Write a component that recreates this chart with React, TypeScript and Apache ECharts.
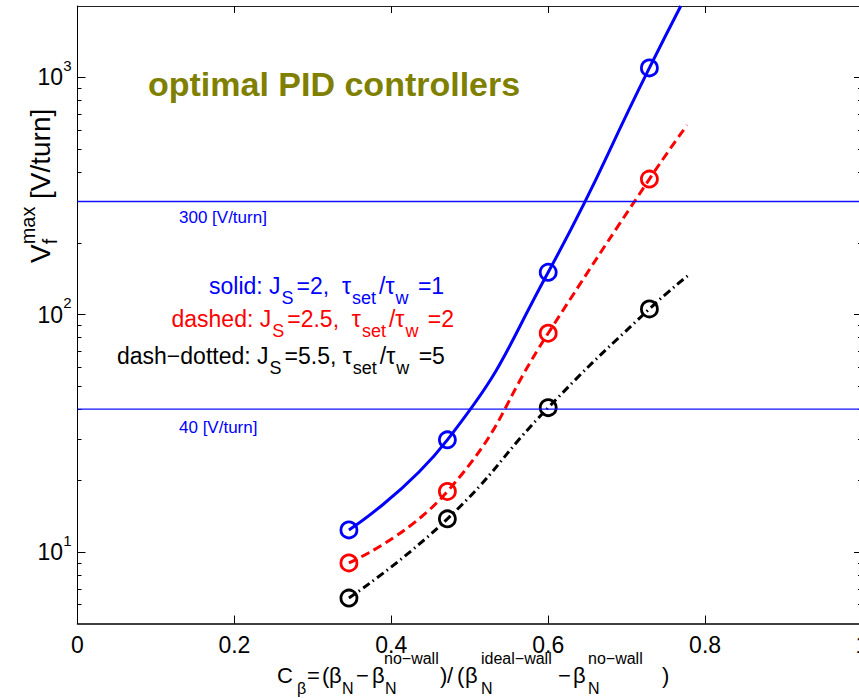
import React, { useEffect, useRef } from 'react';
import * as echarts from 'echarts';

const FONT = '"Liberation Sans", Arial, Helvetica, sans-serif';

// ---- data ----
const cBeta = [0.346, 0.4715, 0.6, 0.729];
const solidVmax = [12.4, 29.7, 151, 1097];
const dashedVmax = [9.0, 18.0, 83.6, 373];
const dashDotVmax = [6.4, 13.8, 40.6, 105.8];
// where each drawn curve ends
const solidEnd = [0.769, 2000];
const dashedEnd = [0.777, 630];
const dashDotEnd = [0.779, 147];
const limitValues = [300, 40];
const limitLabels = ['300 [V/turn]', '40 [V/turn]'];
const yMajorTicks = [10, 100, 1000];
const yMinorTicks = [6, 7, 8, 9, 20, 30, 40, 50, 60, 70, 80, 90, 200, 300, 400, 500, 600, 700, 800, 900];

const BLUE = '#0000ff';
const RED = '#ff0000';
const BLACK = '#000000';
const OLIVE = '#808000';

const legendLines = [
  { text: '{m|solid: J}{s|S}{m|=2,  τ}{s|set}{m|/τ}{s|w}{m| =1}', color: BLUE, x: 209, y: 286.3 },
  { text: '{m|dashed: J}{s|S}{m|=2.5,  τ}{s|set}{m|/τ}{s|w}{m| =2}', color: RED, x: 171.5, y: 319 },
  { text: '{m|dash−dotted: J}{s|S}{m|=5.5, τ}{s|set}{m|/τ}{s|w}{m| =5}', color: BLACK, x: 117, y: 356.3 },
];

function legendRich(color: string) {
  return {
    m: { fontSize: 23, lineHeight: 26, fill: color, color, fontFamily: FONT, verticalAlign: 'middle' },
    s: {
      fontSize: 18,
      lineHeight: 18,
      fill: color,
      color,
      fontFamily: FONT,
      verticalAlign: 'middle',
      padding: [24, 3, 0, 1],
    },
  };
}

function txt(x: number, y: number, text: string, size: number, color = BLACK, extra: any = {}) {
  return {
    type: 'text',
    x,
    y,
    silent: true,
    style: {
      text,
      fontSize: size,
      fontFamily: FONT,
      fill: color,
      align: 'left',
      verticalAlign: 'middle',
      ...extra,
    },
  };
}

export default function App() {
  const ref = useRef<HTMLDivElement>(null);

  useEffect(() => {
    if (!ref.current) return;
    const chart = echarts.init(ref.current, null, { renderer: 'svg' });

    const yBase: any = {
      type: 'log',
      logBase: 10,
      min: 5,
      max: 2000,
      splitLine: { show: false },
      minorTick: { show: false },
    };

    const curve = (ys: number[], end: number[], color: string, type: any) => ({
      type: 'line',
      data: [...cBeta.map((x, i) => [x, ys[i]]), end],
      smooth: 0.5,
      symbol: 'none',
      color,
      lineStyle: { color, width: 3, type, cap: 'butt' },
      silent: true,
      z: 3,
    });
    const markers = (ys: number[], color: string) => ({
      type: 'scatter',
      data: cBeta.map((x, i) => [x, ys[i]]),
      symbol: 'circle',
      symbolSize: 16,
      color,
      itemStyle: { color: 'rgba(0,0,0,0)', borderColor: color, borderWidth: 2.8, opacity: 1 },
      silent: true,
      z: 4,
    });

    const xName = [
      txt(277, 675, 'C', 22),
      txt(297, 688, 'β', 16),
      txt(307, 675, '=', 22),
      txt(322, 675, '(', 22),
      txt(329, 675, 'β', 22),
      txt(342, 688, 'N', 16),
      txt(356, 675, '−', 22),
      txt(372, 675, 'β', 22),
      txt(385, 688, 'N', 16),
      txt(384, 658.5, 'no−wall', 16),
      txt(440, 675, ')', 22),
      txt(447, 675, '/', 22),
      txt(457, 675, '(', 22),
      txt(465, 675, 'β', 22),
      txt(481, 688, 'N', 16),
      txt(481, 658.5, 'ideal−wall', 16),
      txt(558, 675, '−', 22),
      txt(573, 675, 'β', 22),
      txt(588, 688, 'N', 16),
      txt(588, 658.5, 'no−wall', 16),
      txt(662, 675, ')', 22),
    ];

    const option: any = {
      animation: false,
      textStyle: { fontFamily: FONT },
      grid: {
        left: 77.5,
        top: 6,
        width: 784.5,
        height: 617.5,
        containLabel: false,
        outerBoundsMode: 'none',
      },
      xAxis: [
        {
          type: 'value',
          position: 'bottom',
          min: 0,
          max: 1,
          interval: 0.2,
          axisLine: { show: true, onZero: false, lineStyle: { color: BLACK, width: 1.6 } },
          axisTick: { show: true, inside: true, length: 8, lineStyle: { color: BLACK, width: 1 } },
          axisLabel: {
            show: true,
            fontSize: 23,
            color: BLACK,
            fontFamily: FONT,
            margin: 10,
            formatter: (v: number) => String(Math.round(v * 10) / 10),
          },
          splitLine: { show: false },
        },
        {
          type: 'value',
          position: 'top',
          min: 0,
          max: 1,
          interval: 0.2,
          axisLine: { show: true, onZero: false, lineStyle: { color: '#222222', width: 1.2 } },
          axisTick: { show: true, inside: true, length: 7, lineStyle: { color: BLACK, width: 1 } },
          axisLabel: { show: false },
          splitLine: { show: false },
        },
      ],
      yAxis: [
        {
          ...yBase,
          position: 'left',
          axisLine: { show: true, onZero: false, lineStyle: { color: BLACK, width: 1 } },
          axisTick: { show: true, inside: true, length: 8, customValues: yMajorTicks, lineStyle: { color: BLACK, width: 1 } },
          axisLabel: {
            show: true,
            customValues: yMajorTicks,
            margin: 6,
            formatter: (v: number) => `{m|10}{s|${Math.round(Math.log10(v))}}`,
            rich: {
              m: { fontSize: 23, lineHeight: 26, color: BLACK, fontFamily: FONT, verticalAlign: 'middle' },
              s: { fontSize: 15, lineHeight: 16, color: BLACK, fontFamily: FONT, verticalAlign: 'middle', padding: [0, 0, 24, 0] },
            },
          },
        },
        {
          ...yBase,
          position: 'left',
          axisLine: { show: false, onZero: false },
          axisTick: { show: true, inside: true, length: 4, customValues: yMinorTicks, lineStyle: { color: BLACK, width: 1 } },
          axisLabel: { show: false },
        },
        {
          ...yBase,
          position: 'right',
          axisLine: { show: true, onZero: false, lineStyle: { color: BLACK, width: 1 } },
          axisTick: { show: true, inside: true, length: 8, customValues: yMajorTicks, lineStyle: { color: BLACK, width: 1 } },
          axisLabel: { show: false },
        },
        {
          ...yBase,
          position: 'right',
          axisLine: { show: false, onZero: false },
          axisTick: { show: true, inside: true, length: 4, customValues: yMinorTicks, lineStyle: { color: BLACK, width: 1 } },
          axisLabel: { show: false },
        },
      ],
      series: [
        ...limitValues.map((v) => ({
          type: 'line',
          data: [[0, v], [1, v]],
          symbol: 'none',
          color: BLUE,
          itemStyle: { color: BLUE },
          lineStyle: { color: '#1010ff', width: 1.3, opacity: 1 },
          silent: true,
          z: 10,
        })),
        curve(solidVmax, solidEnd, BLUE, 'solid'),
        curve(dashedVmax, dashedEnd, RED, [9, 5]),
        curve(dashDotVmax, dashDotEnd, BLACK, [8, 4, 1.5, 4]),
        markers(solidVmax, BLUE),
        markers(dashedVmax, RED),
        markers(dashDotVmax, BLACK),
      ],
      graphic: {
        elements: [
          txt(148, 84, 'optimal PID controllers', 34, OLIVE, { fontWeight: 'bold' }),
          txt(179, 217, limitLabels[0], 17, BLUE),
          txt(179, 427, limitLabels[1], 17, BLUE),
          ...legendLines.map((l) => ({
            type: 'text',
            x: l.x,
            y: l.y,
            silent: true,
            style: {
              text: l.text,
              rich: legendRich(l.color),
              fill: l.color,
              fontSize: 23,
              fontFamily: FONT,
              align: 'left',
              verticalAlign: 'middle',
            },
          })),
          ...xName,
          {
            type: 'group',
            x: 40,
            y: 263,
            rotation: Math.PI / 2,
            children: [
              txt(0, 0, 'V', 28),
              txt(18.7, 10, 'f', 20),
              txt(18.7, -12, 'max', 20),
              txt(64, 0, '[V/turn]', 28),
            ],
          },
        ],
      },
    };

    chart.setOption(option);
    return () => chart.dispose();
  }, []);

  return (
    <div
      ref={ref}
      style={{ position: 'fixed', left: 0, top: 0, width: 859, height: 698, background: '#fff' }}
    />
  );
}
